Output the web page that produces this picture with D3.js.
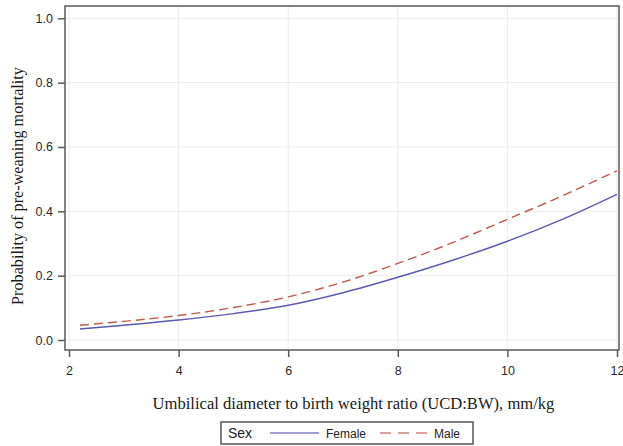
<!DOCTYPE html>
<html><head><meta charset="utf-8">
<script src="https://cdn.jsdelivr.net/npm/d3@7/dist/d3.min.js"></script>
<style>body{margin:0;background:#fff;}svg{display:block;}</style>
</head><body><svg id="c" width="623" height="446"></svg>
<script>
const xValues = [2.2, 3, 4, 5, 6, 7, 8, 9, 10, 11, 12];
const femaleValues = [0.034, 0.046, 0.062, 0.082, 0.108, 0.147, 0.195, 0.248, 0.307, 0.375, 0.453];
const maleValues = [0.046, 0.058, 0.076, 0.101, 0.134, 0.180, 0.238, 0.303, 0.375, 0.448, 0.526];
const xTicks = [2, 4, 6, 8, 10, 12];
const yTicks = [0, 0.2, 0.4, 0.6, 0.8, 1.0];
const seriesNames = ["Female", "Male"];

const svg = d3.select("#c");
const frame = {l: 65, r: 619, t: 6, b: 350};
const x = d3.scaleLinear().domain([2, 12]).range([69, 617]);
const y = d3.scaleLinear().domain([0, 1]).range([340, 18.3]);

// gridlines
const g = svg.append("g");
g.selectAll(".gy").data(yTicks).enter().append("line")
  .attr("x1", frame.l).attr("x2", frame.r)
  .attr("y1", d => y(d)).attr("y2", d => y(d))
  .attr("stroke", "#ececec").attr("stroke-width", 1);
g.selectAll(".gx").data(xTicks).enter().append("line")
  .attr("x1", d => x(d)).attr("x2", d => x(d))
  .attr("y1", frame.t).attr("y2", frame.b)
  .attr("stroke", "#ececec").attr("stroke-width", 1);

// lines
const line = d3.line().x((d, i) => x(xValues[i])).y(d => y(d)).curve(d3.curveMonotoneX);
svg.append("path").datum(femaleValues).attr("d", line)
  .attr("fill", "none").attr("stroke", "#5a5ab4").attr("stroke-width", 1.4);
svg.append("path").datum(maleValues).attr("d", line)
  .attr("fill", "none").attr("stroke", "#c05a4c").attr("stroke-width", 1.4)
  .attr("stroke-dasharray", "9,5");

// frame
svg.append("rect").attr("x", frame.l).attr("y", frame.t)
  .attr("width", frame.r - frame.l).attr("height", frame.b - frame.t)
  .attr("fill", "none").attr("stroke", "#5a5a5a").attr("stroke-width", 1.5);

// axes
const yAxis = d3.axisLeft(y).tickValues(yTicks).tickFormat(d3.format(".1f")).tickSize(7).tickPadding(5);
const ya = svg.append("g").attr("transform", `translate(${frame.l},0)`).call(yAxis);
const xAxis = d3.axisBottom(x).tickValues(xTicks).tickFormat(d3.format("d")).tickSize(7).tickPadding(9);
const xa = svg.append("g").attr("transform", `translate(0,${frame.b})`).call(xAxis);
[ya, xa].forEach(a => {
  a.select(".domain").remove();
  a.selectAll(".tick line").attr("stroke", "#5a5a5a").attr("stroke-width", 1.5);
  a.selectAll(".tick text").attr("fill", "#2a2a2a").style("font-family", "'Liberation Sans', Arial, sans-serif").style("font-size", "12.5px");
});

// axis titles
svg.append("text").attr("x", 353.5).attr("y", 409).attr("text-anchor", "middle")
  .style("font-family", "'Liberation Serif', 'Times New Roman', serif").style("font-size", "16.6px").attr("fill", "#1a1a1a")
  .text("Umbilical diameter to birth weight ratio (UCD:BW), mm/kg");
svg.append("text").attr("transform", "translate(23,186) rotate(-90)").attr("text-anchor", "middle")
  .style("font-family", "'Liberation Serif', 'Times New Roman', serif").style("font-size", "16.2px").attr("fill", "#1a1a1a")
  .text("Probability of pre-weaning mortality");

// legend
const lg = svg.append("g");
lg.append("rect").attr("x", 221).attr("y", 422).attr("width", 252).attr("height", 22)
  .attr("fill", "#fff").attr("stroke", "#555").attr("stroke-width", 1.5);
lg.append("text").attr("x", 228).attr("y", 438).text("Sex")
  .style("font-family", "'Liberation Sans', Arial, sans-serif").style("font-size", "14px").attr("fill", "#222");
lg.append("line").attr("x1", 270).attr("x2", 319).attr("y1", 433).attr("y2", 433)
  .attr("stroke", "#8080c4").attr("stroke-width", 1.5);
lg.append("text").attr("x", 326).attr("y", 438).text(seriesNames[0])
  .style("font-family", "'Liberation Sans', Arial, sans-serif").style("font-size", "12px").attr("fill", "#222");
lg.append("line").attr("x1", 380).attr("x2", 427).attr("y1", 433).attr("y2", 433)
  .attr("stroke", "#d08478").attr("stroke-width", 1.5).attr("stroke-dasharray", "11,7");
lg.append("text").attr("x", 434).attr("y", 438).text(seriesNames[1])
  .style("font-family", "'Liberation Sans', Arial, sans-serif").style("font-size", "12px").attr("fill", "#222");
</script></body></html>
